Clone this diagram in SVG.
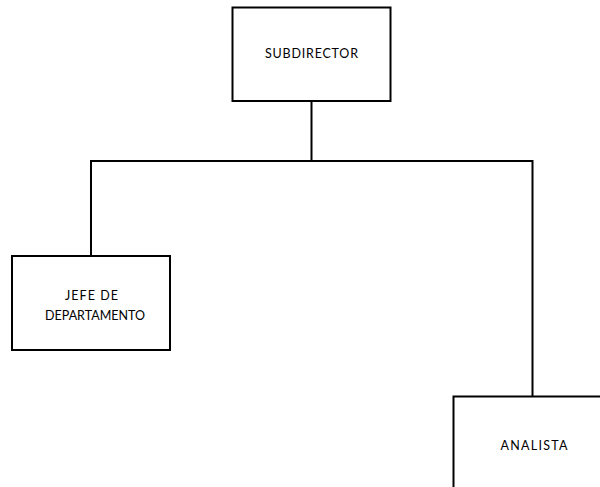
<svg xmlns="http://www.w3.org/2000/svg" width="600" height="487" viewBox="0 0 600 487">
<style>
.box{fill:#fff;stroke:#000;stroke-width:2}
.conn{fill:none;stroke:#000;stroke-width:2}
.lbl{font-family:Lato,"Liberation Sans",Arial,sans-serif;font-size:12.5px;fill:#000;text-anchor:middle}
</style>
<rect width="600" height="487" fill="#fff"/>
<g id="connectors">
<path class="conn" d="M311.5,101 V161 M91,161 H532.5 M91,160 V256 M532.5,160 V397"/>
</g>
<g id="subdirector">
<rect class="box" x="232.5" y="7.5" width="158" height="93.5"/>
<text class="lbl" x="311.5" y="58" textLength="93" lengthAdjust="spacing">SUBDIRECTOR</text>
</g>
<g id="jefe">
<rect class="box" x="12" y="256" width="158" height="94"/>
<text class="lbl" x="91.5" y="300" textLength="53" lengthAdjust="spacing">JEFE DE</text>
<text class="lbl" x="95" y="320" textLength="100" lengthAdjust="spacing">DEPARTAMENTO</text>
</g>
<g id="analista">
<rect class="box" x="453.5" y="396.5" width="158" height="94"/>
<text class="lbl" x="534" y="450" textLength="67" lengthAdjust="spacing">ANALISTA</text>
</g>
</svg>
